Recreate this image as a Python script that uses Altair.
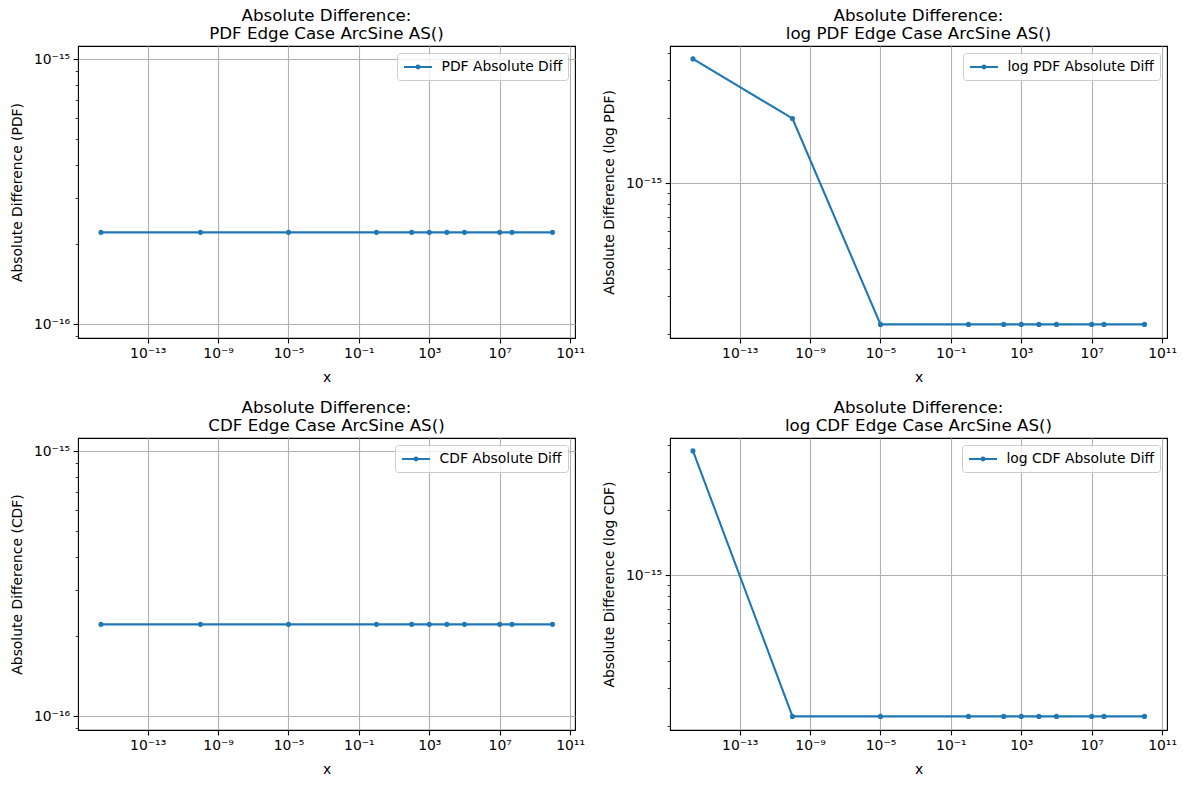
import altair as alt
import pandas as pd

# ---- data ----
x_values = [2.22e-16, 1e-10, 1e-5, 1.0, 1e2, 1e3, 1e4, 1e5, 1e7, 5e7, 1e10]
pdf_diff = [2.22e-16, 2.22e-16, 2.22e-16, 2.22e-16, 2.22e-16, 2.22e-16,
            2.22e-16, 2.22e-16, 2.22e-16, 2.22e-16, 2.22e-16]
logpdf_diff = [3.774e-15, 1.998e-15, 2.22e-16, 2.22e-16, 2.22e-16, 2.22e-16,
               2.22e-16, 2.22e-16, 2.22e-16, 2.22e-16, 2.22e-16]
cdf_diff = [2.22e-16, 2.22e-16, 2.22e-16, 2.22e-16, 2.22e-16, 2.22e-16,
            2.22e-16, 2.22e-16, 2.22e-16, 2.22e-16, 2.22e-16]
logcdf_diff = [3.774e-15, 2.22e-16, 2.22e-16, 2.22e-16, 2.22e-16, 2.22e-16,
               2.22e-16, 2.22e-16, 2.22e-16, 2.22e-16, 2.22e-16]

x_ticks = [1e-13, 1e-9, 1e-5, 1e-1, 1e3, 1e7, 1e11]
x_tick_labels = ["10⁻¹³", "10⁻⁹", "10⁻⁵", "10⁻¹", "10³", "10⁷", "10¹¹"]

y_major_pdf = [1e-16, 1e-15]
y_major_pdf_labels = ["10⁻¹⁶", "10⁻¹⁵"]
y_minor_pdf = [9e-17, 2e-16, 3e-16, 4e-16, 5e-16, 6e-16, 7e-16, 8e-16, 9e-16]

y_major_log = [1e-15]
y_major_log_labels = ["10⁻¹⁵"]
y_minor_log = [2e-16, 3e-16, 4e-16, 5e-16, 6e-16, 7e-16, 8e-16, 9e-16,
               2e-15, 3e-15, 4e-15]

x_domain = [1.1e-17, 1.9e11]
y_domain_pdf = [8.87e-17, 1.12e-15]
y_domain_log = [1.92e-16, 4.33e-15]

BLUE = "#1f77b4"
FONT = "DejaVu Sans"
PW, PH = 497, 292


def label_expr(vals, labels):
    expr = "''"
    for v, lab in reversed(list(zip(vals, labels))):
        expr = f"abs(datum.value - {v!r}) < {v * 1e-6!r} ? '{lab}' : " + expr
    return expr


IS_MAJOR = "abs(log(datum.value)/LN10 - round(log(datum.value)/LN10)) < 0.001"

# line handle (28 px) with a dot in the middle; symbol unit = 7 px
LEGEND_SYMBOL = "M-1,0H3M0.8,0A0.2,0.2,0,1,0,1.2,0A0.2,0.2,0,1,0,0.8,0Z"


def panel(yvals, series_name, ytitle, title2, ydomain, ymajor, ylabels, yminor):
    df = pd.DataFrame({"x": x_values, "y": yvals, "series": [series_name] * len(x_values)})
    base = alt.Chart(df).encode(
        x=alt.X("x:Q",
                scale=alt.Scale(type="log", domain=x_domain, nice=False),
                axis=alt.Axis(values=x_ticks, labelExpr=label_expr(x_ticks, x_tick_labels),
                              title="x", grid=True)),
        y=alt.Y("y:Q",
                scale=alt.Scale(type="log", domain=ydomain, nice=False),
                axis=alt.Axis(values=ymajor + yminor,
                              labelExpr=label_expr(ymajor, ylabels),
                              title=ytitle, grid=True,
                              tickSize={"condition": {"test": IS_MAJOR, "value": 4.9}, "value": 2.8},
                              tickWidth={"condition": {"test": IS_MAJOR, "value": 1.1}, "value": 0.8},
                              gridOpacity={"condition": {"test": IS_MAJOR, "value": 1}, "value": 0})),
        color=alt.Color("series:N", scale=alt.Scale(range=[BLUE]),
                        legend=alt.Legend(title=None, orient="top-right", offset=7,
                                          padding=5.5, fillColor="rgba(255,255,255,0.8)",
                                          strokeColor="#cccccc", cornerRadius=3,
                                          labelFont=FONT, labelFontSize=13.9, labelColor="black",
                                          symbolType=LEGEND_SYMBOL, symbolSize=196,
                                          symbolFillColor=BLUE, symbolStrokeColor=BLUE,
                                          symbolStrokeWidth=2.08, symbolOpacity=1,
                                          labelOffset=22)),
    )
    line = base.mark_line(strokeWidth=2.08)
    pts = base.mark_point(filled=True, size=26, opacity=1)
    return alt.layer(line, pts).properties(
        width=PW, height=PH,
        title=alt.TitleParams(text=["Absolute Difference:", title2], fontSize=16.7, font=FONT,
                              fontWeight="normal", color="black", anchor="middle",
                              offset=3, lineHeight=18.5),
    )


p1 = panel(pdf_diff, "PDF Absolute Diff", "Absolute Difference (PDF)",
           "PDF Edge Case ArcSine AS()", y_domain_pdf, y_major_pdf, y_major_pdf_labels, y_minor_pdf)
p2 = panel(logpdf_diff, "log PDF Absolute Diff", "Absolute Difference (log PDF)",
           "log PDF Edge Case ArcSine AS()", y_domain_log, y_major_log, y_major_log_labels, y_minor_log)
p3 = panel(cdf_diff, "CDF Absolute Diff", "Absolute Difference (CDF)",
           "CDF Edge Case ArcSine AS()", y_domain_pdf, y_major_pdf, y_major_pdf_labels, y_minor_pdf)
p4 = panel(logcdf_diff, "log CDF Absolute Diff", "Absolute Difference (log CDF)",
           "log CDF Edge Case ArcSine AS()", y_domain_log, y_major_log, y_major_log_labels, y_minor_log)

chart = alt.concat(
    p1, p2, p3, p4, columns=2, spacing={"row": 100, "column": 95}, bounds="flush"
).resolve_scale(
    color="independent", x="independent", y="independent"
).properties(
    padding={"left": 9, "top": 7, "right": 5, "bottom": 5},
    background="white",
).configure_view(
    stroke="black", strokeWidth=1.1
).configure_axis(
    labelFont=FONT, labelFontSize=13.9, labelColor="black",
    titleFont=FONT, titleFontSize=13.9, titleFontWeight="normal", titleColor="black",
    tickColor="black", tickSize=4.9, tickWidth=1.1, labelPadding=3.5,
    gridColor="#b0b0b0", gridWidth=1.1, domain=False,
).configure_axisX(
    titlePadding=10
).configure_axisY(
    titlePadding=9
)

chart.save("out.html", embed_options={"renderer": "svg", "actions": False})
